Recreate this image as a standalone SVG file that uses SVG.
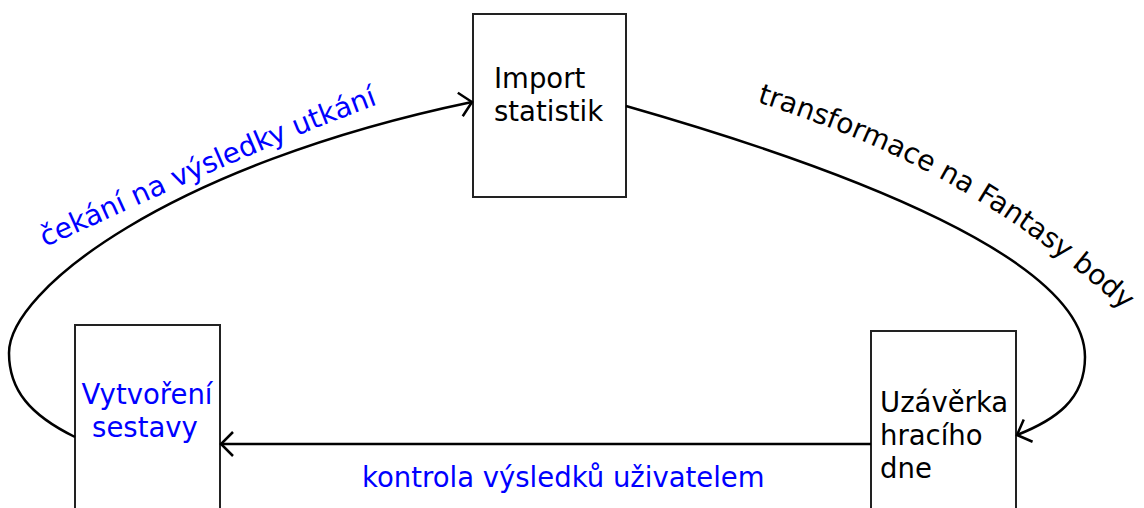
<svg xmlns="http://www.w3.org/2000/svg" width="1144" height="508" viewBox="0 0 1144 508">
  <style>
    .box { fill: #ffffff; stroke: #222222; stroke-width: 2; }
    .lbl { font-family: "DejaVu Sans", Verdana, sans-serif; font-size: 27.5px; fill: #000000; }
    .edge-lbl { font-size: 28px; }
    .blue { fill: #0000ff; }
    .edge { fill: none; stroke: #000000; stroke-width: 2.5; }
  </style>
  <defs>
    <marker id="open" markerUnits="userSpaceOnUse" viewBox="-14 -14 16 28" markerWidth="16" markerHeight="28" refX="0" refY="0" orient="auto">
      <path d="M-12,-12 L0,0 L-12,12" fill="none" stroke="#000000" stroke-width="2.5"/>
    </marker>
    <path id="tp-left" d="M45,247 C150,200 265,145 390,100"/>
    <path id="tp-right" d="M757,102 C867,138 1000,190 1150,335"/>
  </defs>

  <rect width="1144" height="508" fill="#ffffff"/>

  <g id="import">
    <rect class="box" x="473" y="14" width="153" height="183"/>
    <text class="lbl" x="494" y="88">Import</text>
    <text class="lbl" x="494" y="121">statistik</text>
  </g>

  <g id="sestava">
    <rect class="box" x="75" y="325" width="145" height="200"/>
    <text class="lbl blue" x="147" y="404" text-anchor="middle">Vytvoření</text>
    <text class="lbl blue" x="145" y="437" text-anchor="middle">sestavy</text>
  </g>

  <g id="uzaverka">
    <rect class="box" x="871" y="331" width="145" height="200"/>
    <text class="lbl" x="880" y="412">Uzávěrka</text>
    <text class="lbl" x="880" y="445">hracího</text>
    <text class="lbl" x="880" y="478">dne</text>
  </g>

  <g id="connectors">
    <path class="edge" d="M75,437 C30,415 9,390 9,353 C9,290 170,165 472,102" marker-end="url(#open)"/>
    <path class="edge" d="M626,106 C850,170 1085,260 1085,357 C1085,400 1055,420 1017,435" marker-end="url(#open)"/>
    <path class="edge" d="M871,444 L221,444" marker-end="url(#open)"/>
    <text class="lbl edge-lbl blue"><textPath href="#tp-left">čekání na výsledky utkání</textPath></text>
    <text class="lbl edge-lbl"><textPath href="#tp-right">transformace na Fantasy body</textPath></text>
    <text class="lbl blue" x="362" y="487">kontrola výsledků uživatelem</text>
  </g>
</svg>
